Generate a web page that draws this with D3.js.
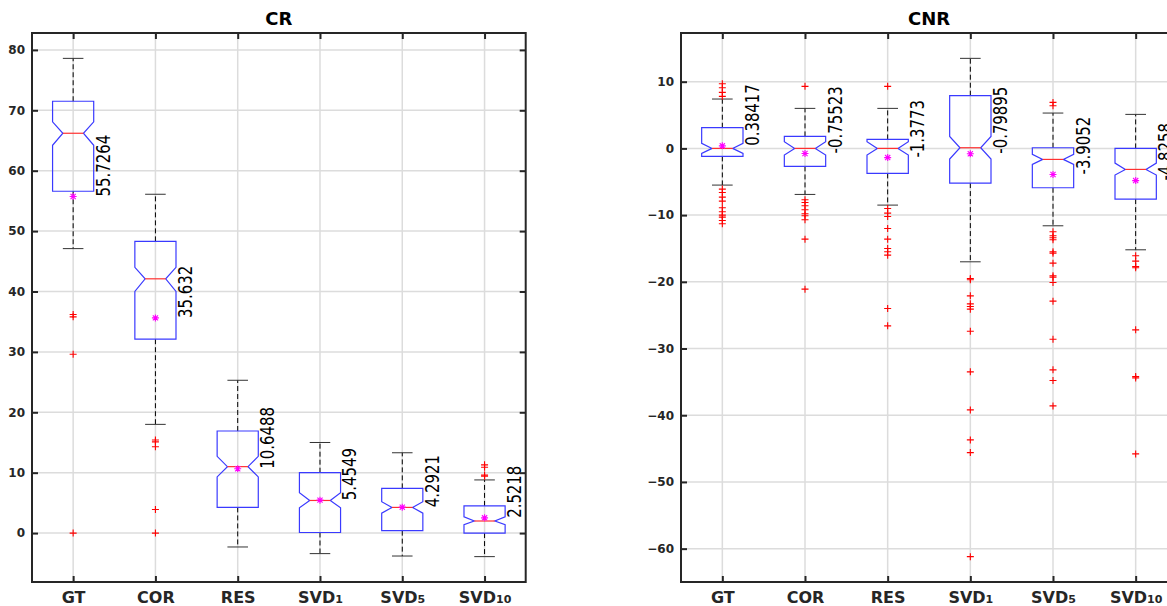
<!DOCTYPE html>
<html>
<head>
<meta charset="utf-8">
<script src="https://cdn.jsdelivr.net/npm/d3@7"></script>
<style>
  body { margin: 0; background: #fff; }
  svg { display: block; }
</style>
</head>
<body>
<div id="chart"></div>
<script>
// Categories and their tick labels (main part + subscript)
const categories = ["GT", "COR", "RES", "SVD1", "SVD5", "SVD10"];
const labelMain = ["GT", "COR", "RES", "SVD", "SVD", "SVD"];
const labelSub = ["", "", "", "1", "5", "10"];

// CR box statistics
const crQ1 = [56.6, 32.1, 4.25, 0.1, 0.4, 0.0];
const crQ3 = [71.5, 48.3, 16.9, 10.0, 7.4, 4.5];
const crMedian = [66.2, 42.1, 11.0, 5.4, 4.25, 2.0];
const crNotchLo = [64.2, 40.0, 9.3, 4.2, 3.3, 1.4];
const crNotchHi = [68.1, 44.0, 12.7, 6.7, 5.2, 2.7];
const crWhiskerLo = [47.1, 18.0, -2.3, -3.4, -3.8, -3.9];
const crWhiskerHi = [78.6, 56.1, 25.3, 15.0, 13.3, 8.8];
const crMean = [55.7264, 35.632, 10.6488, 5.4549, 4.2921, 2.5218];
const crMeanLabel = ["55.7264", "35.632", "10.6488", "5.4549", "4.2921", "2.5218"];
const crOutliers = [
  [36.2, 35.8, 29.6, 0],
  [15.4, 15.1, 14.3, 3.9, 0],
  [],
  [],
  [],
  [11.3, 10.9, 9.6, 9.4]
];
const crTicks = [0, 10, 20, 30, 40, 50, 60, 70, 80];

// CNR box statistics
const cnrQ1 = [-1.2, -2.7, -3.75, -5.2, -5.9, -7.6];
const cnrQ3 = [3.1, 1.8, 1.35, 7.9, 0.1, 0.0];
const cnrMedian = [0.0, 0.0, 0.0, 0.1, -1.65, -3.15];
const cnrNotchLo = [-0.75, -1.0, -1.0, -1.6, -2.4, -4.0];
const cnrNotchHi = [0.75, 1.0, 1.0, 1.8, -0.9, -2.2];
const cnrWhiskerLo = [-5.5, -6.9, -8.5, -17.0, -11.6, -15.2];
const cnrWhiskerHi = [7.4, 6.0, 6.0, 13.5, 5.3, 5.1];
const cnrMean = [0.38417, -0.75523, -1.3773, -0.79895, -3.9052, -4.8258];
const cnrMeanLabel = ["0.38417", "-0.75523", "-1.3773", "-0.79895", "-3.9052", "-4.8258"];
const cnrOutliers = [
  [9.7, 9.1, 8.4, 7.8, -6.1, -6.6, -7.3, -7.9, -8.9, -9.5, -10.0, -10.3, -10.8, -11.3],
  [9.3, -7.7, -8.1, -8.6, -9.2, -9.8, -10.1, -10.7, -13.6, -21.1],
  [9.3, -9.0, -9.7, -10.2, -12.0, -13.6, -15.0, -15.5, -16.0, -24.0, -26.6],
  [-19.5, -19.7, -22.1, -23.3, -23.7, -24.1, -27.4, -33.5, -39.2, -43.7, -45.6, -61.2],
  [6.9, 6.4, -12.5, -13.1, -13.4, -13.7, -15.5, -15.7, -17.2, -19.1, -19.3, -20.1, -22.9, -28.6, -33.2, -34.8, -38.6],
  [-16.1, -16.9, -17.7, -17.9, -27.2, -34.2, -34.4, -45.8]
];
const cnrTicks = [-60, -50, -40, -30, -20, -10, 0, 10];

// Overall size and the vertical extent shared by both panels
const totalWidth = 1167;
const totalHeight = 606;
const plotTop = 33;
const plotBottom = 582;

const axisColor = "#262626";
const tickFont = "'DejaVu Sans', sans-serif";

const svg = d3.select("#chart")
  .append("svg")
  .attr("width", totalWidth)
  .attr("height", totalHeight);

// Draw one boxplot panel
function drawPanel(p) {
  const x = d3.scalePoint()
    .domain(categories)
    .range([p.left, p.right])
    .padding(0.5);

  const y = d3.scaleLinear()
    .domain(p.yDomain)
    .range([plotBottom, plotTop]);

  const halfW = x.step() * 0.25;
  const g = svg.append("g");

  // grid lines
  g.append("g")
    .selectAll("line")
    .data(p.ticks)
    .join("line")
    .attr("x1", p.left).attr("x2", p.right)
    .attr("y1", d => y(d)).attr("y2", d => y(d))
    .attr("stroke", "#dcdcdc").attr("stroke-width", 1.5);

  g.append("g")
    .selectAll("line")
    .data(categories)
    .join("line")
    .attr("x1", d => x(d)).attr("x2", d => x(d))
    .attr("y1", plotTop).attr("y2", plotBottom)
    .attr("stroke", "#dcdcdc").attr("stroke-width", 1.5);

  const rows = categories.map((c, i) => ({
    cat: c,
    q1: p.q1[i], q3: p.q3[i], med: p.median[i],
    nlo: p.notchLo[i], nhi: p.notchHi[i],
    wlo: p.whiskerLo[i], whi: p.whiskerHi[i],
    mean: p.mean[i], label: p.meanLabel[i],
    out: p.outliers[i]
  }));

  const boxes = g.selectAll(".box")
    .data(rows)
    .join("g")
    .attr("class", "box");

  // dashed whiskers
  boxes.append("line")
    .attr("x1", d => x(d.cat)).attr("x2", d => x(d.cat))
    .attr("y1", d => y(d.q3)).attr("y2", d => y(d.whi))
    .attr("stroke", "#000").attr("stroke-dasharray", "5,3");
  boxes.append("line")
    .attr("x1", d => x(d.cat)).attr("x2", d => x(d.cat))
    .attr("y1", d => y(d.q1)).attr("y2", d => y(d.wlo))
    .attr("stroke", "#000").attr("stroke-dasharray", "5,3");

  // whisker caps
  boxes.append("line")
    .attr("x1", d => x(d.cat) - halfW / 2).attr("x2", d => x(d.cat) + halfW / 2)
    .attr("y1", d => y(d.whi)).attr("y2", d => y(d.whi))
    .attr("stroke", "#333");
  boxes.append("line")
    .attr("x1", d => x(d.cat) - halfW / 2).attr("x2", d => x(d.cat) + halfW / 2)
    .attr("y1", d => y(d.wlo)).attr("y2", d => y(d.wlo))
    .attr("stroke", "#333");

  // notched box
  boxes.append("path")
    .attr("d", d => {
      const cx = x(d.cat);
      return d3.line()([
        [cx - halfW, y(d.q1)], [cx - halfW, y(d.nlo)], [cx - halfW / 2, y(d.med)],
        [cx - halfW, y(d.nhi)], [cx - halfW, y(d.q3)], [cx + halfW, y(d.q3)],
        [cx + halfW, y(d.nhi)], [cx + halfW / 2, y(d.med)], [cx + halfW, y(d.nlo)],
        [cx + halfW, y(d.q1)]
      ]) + "Z";
    })
    .attr("fill", "none")
    .attr("stroke", "#3a3aff")
    .attr("stroke-width", 1.2);

  // median
  boxes.append("line")
    .attr("x1", d => x(d.cat) - halfW / 2).attr("x2", d => x(d.cat) + halfW / 2)
    .attr("y1", d => y(d.med)).attr("y2", d => y(d.med))
    .attr("stroke", "#ff3030").attr("stroke-width", 1.2);

  // outliers as red plus signs
  boxes.each(function (d) {
    d3.select(this).selectAll(".out")
      .data(d.out)
      .join("path")
      .attr("class", "out")
      .attr("transform", v => `translate(${x(d.cat)},${y(v)})`)
      .attr("d", "M-3.5,0H3.5M0,-3.5V3.5")
      .attr("stroke", "#ff0000")
      .attr("stroke-width", 1.1);
  });

  // mean as magenta asterisk
  boxes.append("path")
    .attr("transform", d => `translate(${x(d.cat)},${y(d.mean)})`)
    .attr("d", "M-3.5,0H3.5M0,-3.5V3.5M-2.6,-2.6L2.6,2.6M-2.6,2.6L2.6,-2.6")
    .attr("stroke", "#ff00ff")
    .attr("stroke-width", 1.1);

  // rotated mean labels (squeezed along the text direction)
  boxes.append("text")
    .attr("transform", d => `translate(${x(d.cat) + 36.5},${y(d.mean)}) rotate(-90) scale(0.83,1)`)
    .attr("text-anchor", "start")
    .style("font-family", "'Liberation Sans Narrow', 'DejaVu Sans Condensed', sans-serif")
    .style("font-size", "20px")
    .attr("fill", "#000")
    .text(d => d.label);

  // axes: ticks pointing inward on all four sides
  const left = g.append("g")
    .attr("transform", `translate(${p.left},0)`)
    .call(d3.axisLeft(y).tickValues(p.ticks).tickSizeInner(-6).tickSizeOuter(0).tickPadding(7));
  left.select(".domain").remove();
  left.selectAll("line").attr("stroke", axisColor).attr("stroke-width", 2);
  left.selectAll("text")
    .style("font-family", tickFont)
    .style("font-weight", "bold")
    .style("font-size", "12px")
    .attr("fill", axisColor);

  const right = g.append("g")
    .attr("transform", `translate(${p.right},0)`)
    .call(d3.axisRight(y).tickValues(p.ticks).tickSizeInner(-6).tickSizeOuter(0).tickFormat(""));
  right.select(".domain").remove();
  right.selectAll("line").attr("stroke", axisColor).attr("stroke-width", 2);

  const top = g.append("g")
    .attr("transform", `translate(0,${plotTop})`)
    .call(d3.axisTop(x).tickSizeInner(-6).tickSizeOuter(0).tickFormat(""));
  top.select(".domain").remove();
  top.selectAll("line").attr("stroke", axisColor).attr("stroke-width", 2);

  const bottom = g.append("g")
    .attr("transform", `translate(0,${plotBottom})`)
    .call(d3.axisBottom(x).tickSizeInner(-6).tickSizeOuter(0).tickFormat(""));
  bottom.select(".domain").remove();
  bottom.selectAll("line").attr("stroke", axisColor).attr("stroke-width", 2);

  const xText = bottom.selectAll(".tick")
    .append("text")
    .attr("y", 21)
    .attr("text-anchor", "middle")
    .style("font-family", tickFont)
    .style("font-weight", "bold")
    .style("font-size", "16px")
    .attr("fill", axisColor);
  xText.append("tspan").text(d => labelMain[categories.indexOf(d)]);
  xText.append("tspan")
    .style("font-size", "11px")
    .text(d => labelSub[categories.indexOf(d)]);

  // frame
  g.append("rect")
    .attr("x", p.left).attr("y", plotTop)
    .attr("width", p.right - p.left).attr("height", plotBottom - plotTop)
    .attr("fill", "none")
    .attr("stroke", axisColor)
    .attr("stroke-width", 2);

  // title
  g.append("text")
    .attr("x", (p.left + p.right) / 2)
    .attr("y", 25)
    .attr("text-anchor", "middle")
    .style("font-family", tickFont)
    .style("font-weight", "bold")
    .style("font-size", "18px")
    .attr("fill", "#000")
    .text(p.title);
}

drawPanel({
  title: "CR", left: 32, right: 525.7, yDomain: [-8.1, 82.8], ticks: crTicks,
  q1: crQ1, q3: crQ3, median: crMedian, notchLo: crNotchLo, notchHi: crNotchHi,
  whiskerLo: crWhiskerLo, whiskerHi: crWhiskerHi, mean: crMean, meanLabel: crMeanLabel,
  outliers: crOutliers
});

drawPanel({
  title: "CNR", left: 681, right: 1177, yDomain: [-65.0, 17.3], ticks: cnrTicks,
  q1: cnrQ1, q3: cnrQ3, median: cnrMedian, notchLo: cnrNotchLo, notchHi: cnrNotchHi,
  whiskerLo: cnrWhiskerLo, whiskerHi: cnrWhiskerHi, mean: cnrMean, meanLabel: cnrMeanLabel,
  outliers: cnrOutliers
});
</script>
</body>
</html>
